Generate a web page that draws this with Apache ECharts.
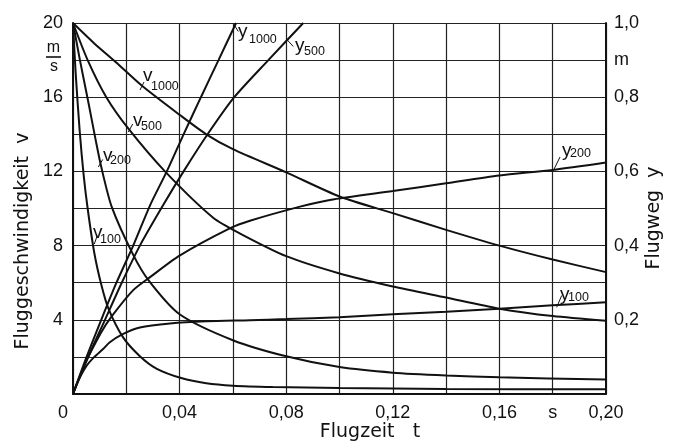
<!DOCTYPE html>
<html><head><meta charset="utf-8">
<script src="https://cdn.jsdelivr.net/npm/echarts@6/dist/echarts.min.js"></script>
<style>html,body{margin:0;padding:0;background:#fff}#c{width:674px;height:442px}</style>
</head><body><div id="c"></div>
<script>
// ---- tick labels ----
const xLabelText = ['0', '', '0,04', '', '0,08', '', '0,12', '', '0,16', 's', '0,20']; // every 0.02 s
const leftLabelText = ['', '', '4', '', '8', '', '12', '', '16', '', '20'];          // every 2 m/s
const rightLabelText = ['', '', '0,2', '', '0,4', '', '0,6', '', '0,8', 'm', '1,0'];  // every 0.1 m

// ---- velocities v [m/s] ----
const v1000T = [0, 0.008, 0.016, 0.026, 0.04, 0.05, 0.06, 0.08, 0.10, 0.12, 0.14, 0.16, 0.18, 0.20];
const v1000V = [20, 18.9, 17.9, 16.6, 15.05, 14.0, 13.2, 11.95, 10.65, 9.75, 8.85, 8.0, 7.25, 6.57];

const v500T = [0, 0.0055, 0.0125, 0.0208, 0.0345, 0.0526, 0.0627, 0.08, 0.10, 0.12, 0.14, 0.16, 0.18, 0.20];
const v500V = [20, 18, 16, 14.3, 12, 9.5, 8.65, 7.43, 6.5, 5.8, 5.2, 4.6, 4.2, 3.95];

const v200T = [0, 0.0026, 0.0058, 0.0085, 0.0105, 0.0145, 0.0226, 0.0285, 0.040, 0.060, 0.08, 0.10, 0.12, 0.14, 0.16, 0.20];
const v200V = [20, 18, 15.7, 13.7, 12.3, 10.1, 7.5, 6.1, 4.3, 2.9, 2.03, 1.45, 1.15, 1.0, 0.9, 0.78];

const v100T = [0, 0.001, 0.0025, 0.004, 0.0055, 0.008, 0.0106, 0.0133, 0.0188, 0.025, 0.0313, 0.0406, 0.05, 0.06, 0.075, 0.10, 0.14, 0.20];
const v100V = [20, 17.3, 14.2, 11.8, 10, 7.6, 5.9, 4.6, 3.05, 2.05, 1.37, 0.86, 0.58, 0.45, 0.38, 0.32, 0.27, 0.25];

// ---- flight paths y [m] ----
const y1000T = [0, 0.0051, 0.0106, 0.0163, 0.0226, 0.0290, 0.0352, 0.0415, 0.048, 0.0546, 0.0612];
const y1000V = [0, 0.1, 0.2, 0.3, 0.4, 0.51, 0.6, 0.7, 0.8, 0.9, 1.0];

const y500T = [0, 0.0057, 0.012, 0.0183, 0.0251, 0.0339, 0.0415, 0.0505, 0.0605, 0.0733, 0.0864];
const y500V = [0, 0.1, 0.2, 0.3, 0.4, 0.51, 0.6, 0.7, 0.8, 0.9, 1.0];

const y200T = [0, 0.0045, 0.0105, 0.0145, 0.0226, 0.0289, 0.040, 0.059, 0.0664, 0.0852, 0.0964, 0.12, 0.14, 0.16, 0.18, 0.20];
const y200V = [0, 0.081, 0.165, 0.209, 0.28, 0.315, 0.373, 0.447, 0.467, 0.505, 0.523, 0.547, 0.568, 0.589, 0.604, 0.624];

const y100T = [0, 0.002, 0.005, 0.008, 0.0114, 0.0137, 0.0183, 0.0251, 0.0364, 0.05, 0.0664, 0.08, 0.10, 0.12, 0.14, 0.16, 0.18, 0.20];
const y100V = [0, 0.036, 0.075, 0.1, 0.122, 0.139, 0.16, 0.179, 0.19, 0.196, 0.199, 0.202, 0.207, 0.215, 0.222, 0.23, 0.239, 0.247];

const INK = '#111';
const FONT = 'Liberation Sans';
const TFONT = 'DejaVu Sans';

function pairs(T, V) { return T.map((t, i) => [t, V[i]]); }
function curve(name, T, V, axis) {
  return {
    name, type: 'line', yAxisIndex: axis, data: pairs(T, V),
    smooth: 0.25, showSymbol: false, symbol: 'none',
    lineStyle: { color: INK, width: 2 }, silent: true, animation: false, clip: true
  };
}

// series labels (letter + subscript) and leader lines
const seriesLabels = [
  { l: 'v', s: '1000', lx: 143, ly: 76, sx: 151, sy: 86.5, ln: [140, 90, 144, 82] },
  { l: 'v', s: '500', lx: 133, ly: 121, sx: 141, sy: 127, ln: [128.3, 132, 132.7, 124] },
  { l: 'v', s: '200', lx: 103, ly: 156, sx: 110, sy: 161, ln: [98.3, 167, 102.7, 159.5] },
  { l: 'v', s: '100', lx: 93, ly: 233, sx: 100, sy: 240, ln: [94.3, 244, 97.3, 235.5] },
  { l: 'y', s: '1000', lx: 238, ly: 32, sx: 249, sy: 40, ln: [233.3, 23.5, 238.3, 31.5] },
  { l: 'y', s: '500', lx: 295, ly: 46, sx: 304, sy: 52, ln: [287.3, 40, 293.3, 46.5] },
  { l: 'y', s: '200', lx: 562, ly: 151, sx: 570, sy: 154, ln: [553.3, 170.7, 560, 157] },
  { l: 'y', s: '100', lx: 560, ly: 295, sx: 568, sy: 297.5, ln: [556.7, 307.3, 561.7, 295.5] }
];

const graphics = [];
seriesLabels.forEach(o => {
  graphics.push({ type: 'text', x: o.lx, y: o.ly, silent: true,
    style: { text: o.l, font: '19px "' + FONT + '"', fill: INK, align: 'left', verticalAlign: 'middle' } });
  graphics.push({ type: 'text', x: o.sx, y: o.sy, silent: true,
    style: { text: o.s, font: '12.5px "' + FONT + '"', fill: INK, align: 'left', verticalAlign: 'middle' } });
  graphics.push({ type: 'line', silent: true,
    shape: { x1: o.ln[0], y1: o.ln[1], x2: o.ln[2], y2: o.ln[3] },
    style: { stroke: INK, lineWidth: 1 } });
});
// axis titles
graphics.push({ type: 'text', x: 23, y: 241, rotation: Math.PI / 2, silent: true,
  style: { text: 'Fluggeschwindigkeit  v', font: '19px "' + TFONT + '"', fill: INK, align: 'center', verticalAlign: 'middle' } });
graphics.push({ type: 'text', x: 654, y: 218, rotation: Math.PI / 2, silent: true,
  style: { text: 'Flugweg  y', font: '19px "' + TFONT + '"', fill: INK, align: 'center', verticalAlign: 'middle' } });
graphics.push({ type: 'text', x: 370, y: 432, silent: true,
  style: { text: 'Flugzeit   t', font: '19px "' + TFONT + '"', fill: INK, align: 'center', verticalAlign: 'middle' } });
// unit m/s fraction on left axis
graphics.push({ type: 'text', x: 53.5, y: 47.5, silent: true,
  style: { text: 'm', font: '16px "' + FONT + '"', fill: INK, align: 'center', verticalAlign: 'middle' } });
graphics.push({ type: 'line', silent: true, shape: { x1: 46, y1: 57, x2: 61, y2: 57 }, style: { stroke: INK, lineWidth: 1.6 } });
graphics.push({ type: 'text', x: 54, y: 66.5, silent: true,
  style: { text: 's', font: '16px "' + FONT + '"', fill: INK, align: 'center', verticalAlign: 'middle' } });

const labelStyle = { color: INK, fontFamily: FONT, fontSize: 18 };

const option = {
  animation: false,
  backgroundColor: '#fff',
  grid: { left: 73, right: 68, top: 23, bottom: 48, containLabel: false },
  xAxis: {
    type: 'value', min: 0, max: 0.2, interval: 0.02,
    axisLine: { show: true, onZero: false, lineStyle: { color: INK, width: 2 } },
    axisTick: { show: false },
    splitLine: { show: true, lineStyle: { color: '#222', width: 1.2 } },
    axisLabel: {
      ...labelStyle, margin: 10,
      formatter: v => {
        const k = Math.round(v / 0.02);
        const t = xLabelText[k] || '';
        return k === 0 ? '{z|' + t + '}' : t;
      },
      rich: { z: { ...labelStyle, padding: [0, 20, 0, 0] } }
    }
  },
  yAxis: [
    {
      type: 'value', min: 0, max: 20, interval: 2, position: 'left',
      axisLine: { show: true, onZero: false, lineStyle: { color: INK, width: 2 } },
      axisTick: { show: false },
      splitLine: { show: true, lineStyle: { color: '#222', width: 1.2 } },
      axisLabel: { ...labelStyle, margin: 10, formatter: v => leftLabelText[Math.round(v / 2)] || '' }
    },
    {
      type: 'value', min: 0, max: 1, interval: 0.1, position: 'right',
      axisLine: { show: true, onZero: false, lineStyle: { color: INK, width: 2 } },
      axisTick: { show: false },
      splitLine: { show: false },
      axisLabel: { ...labelStyle, margin: 8, formatter: v => rightLabelText[Math.round(v * 10)] || '' }
    }
  ],
  series: [
    curve('v1000', v1000T, v1000V, 0),
    curve('v500', v500T, v500V, 0),
    curve('v200', v200T, v200V, 0),
    curve('v100', v100T, v100V, 0),
    curve('y1000', y1000T, y1000V, 1),
    curve('y500', y500T, y500V, 1),
    curve('y200', y200T, y200V, 1),
    curve('y100', y100T, y100V, 1)
  ],
  graphic: graphics
};

const chart = echarts.init(document.getElementById('c'), null, { renderer: 'canvas' });
chart.setOption(option);
</script>
</body></html>
